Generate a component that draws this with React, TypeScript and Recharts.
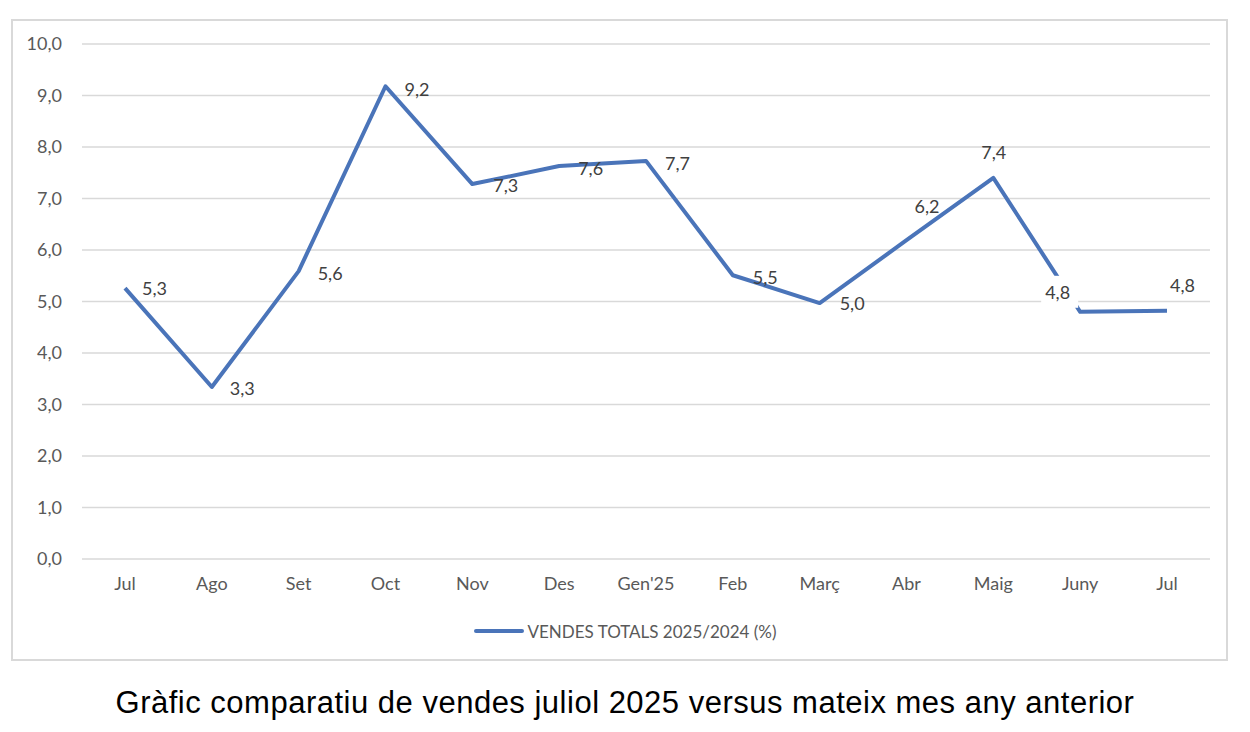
import React from 'react';
import { LineChart, Line, XAxis, YAxis, CartesianGrid, Legend, LabelList } from 'recharts';

const months = ['Jul', 'Ago', 'Set', 'Oct', 'Nov', 'Des', "Gen'25", 'Feb', 'Març', 'Abr', 'Maig', 'Juny', 'Jul'];
const sales = [5.26, 3.34, 5.59, 9.18, 7.28, 7.63, 7.73, 5.51, 4.97, 6.19, 7.4, 4.8, 4.82];
const yTicks = [0, 1, 2, 3, 4, 5, 6, 7, 8, 9, 10];
const seriesName = 'VENDES TOTALS 2025/2024 (%)';

// where each data label sits relative to its point (text start, vertical centre)
const labelDx = [17, 18, 19, 19, 21, 19, 19, 20, 20, 8, -12, -35, 3];
const labelDy = [0, 1, 2, 3, 1, 2, 2, 2, 0, -34, -26, -20, -26];
const labelFilled = [false, false, false, false, false, false, false, false, false, false, false, true, false];

const data = months.map((m, i) => ({ month: m, value: sales[i] }));

const BLUE = '#4a74b9';
const FONT = 'Lato, "Open Sans", sans-serif';

const fmt = (v: number) => v.toFixed(1).replace('.', ',');

const renderLabel = (props: any) => {
  const { x, y, value, index } = props;
  const tx = x + labelDx[index];
  const ty = y + labelDy[index];
  return (
    <g>
      {labelFilled[index] && <rect x={tx - 4} y={ty - 16} width={37} height={32} fill="#fff" />}
      <text x={tx} y={ty} dominantBaseline="central" textAnchor="start" fill="#404040" fontSize={18} fontFamily={FONT}>
        {fmt(value)}
      </text>
    </g>
  );
};

const renderLegend = () => (
  <div style={{ display: 'flex', justifyContent: 'center', alignItems: 'center', paddingLeft: 27, height: 30, fontFamily: FONT }}>
    <svg width={50} height={10} style={{ marginRight: 4 }}>
      <line x1={2} y1={5} x2={48} y2={5} stroke={BLUE} strokeWidth={4} strokeLinecap="round" />
    </svg>
    <span style={{ fontSize: 17, color: '#595959' }}>{seriesName}</span>
  </div>
);

export default function App() {
  return (
    <div style={{ position: 'absolute', left: 0, top: 0, width: 1250, height: 732, background: '#fff' }}>
      <div style={{ position: 'absolute', left: 11, top: 19, width: 1217, height: 642, border: '2px solid #d9d9d9', boxSizing: 'border-box' }}>
        <LineChart width={1213} height={638} data={data} margin={{ top: 23, right: 16, left: 0, bottom: 13 }}>
          <CartesianGrid vertical={false} stroke="#d9d9d9" strokeWidth={1.5} />
          <XAxis
            dataKey="month"
            padding={{ left: 43, right: 43 }}
            axisLine={false}
            tickLine={false}
            tickSize={0}
            tickMargin={18}
            height={57}
            interval={0}
            tick={{ fill: '#595959', fontSize: 18, fontFamily: FONT }}
          />
          <YAxis
            domain={[0, 10]}
            ticks={yTicks}
            width={69}
            axisLine={false}
            tickLine={false}
            tickSize={0}
            tickMargin={20}
            tickFormatter={fmt}
            tick={{ fill: '#595959', fontSize: 18, fontFamily: FONT }}
          />
          <Legend verticalAlign="bottom" content={renderLegend} wrapperStyle={{ height: 30 }} />
          <Line
            type="linear"
            dataKey="value"
            name={seriesName}
            stroke={BLUE}
            strokeWidth={4}
            strokeLinejoin="round"
            dot={false}
            activeDot={false}
            isAnimationActive={false}
          >
            <LabelList dataKey="value" content={renderLabel} />
          </Line>
        </LineChart>
      </div>
      <div
        style={{
          position: 'absolute',
          left: 0,
          top: 685,
          width: 1250,
          textAlign: 'center',
          fontFamily: '"Liberation Sans", Arial, sans-serif',
          fontSize: 31,
          lineHeight: '36px',
          letterSpacing: 0.5,
          color: '#000',
        }}
      >
        Gràfic comparatiu de vendes juliol 2025 versus mateix mes any anterior
      </div>
    </div>
  );
}
